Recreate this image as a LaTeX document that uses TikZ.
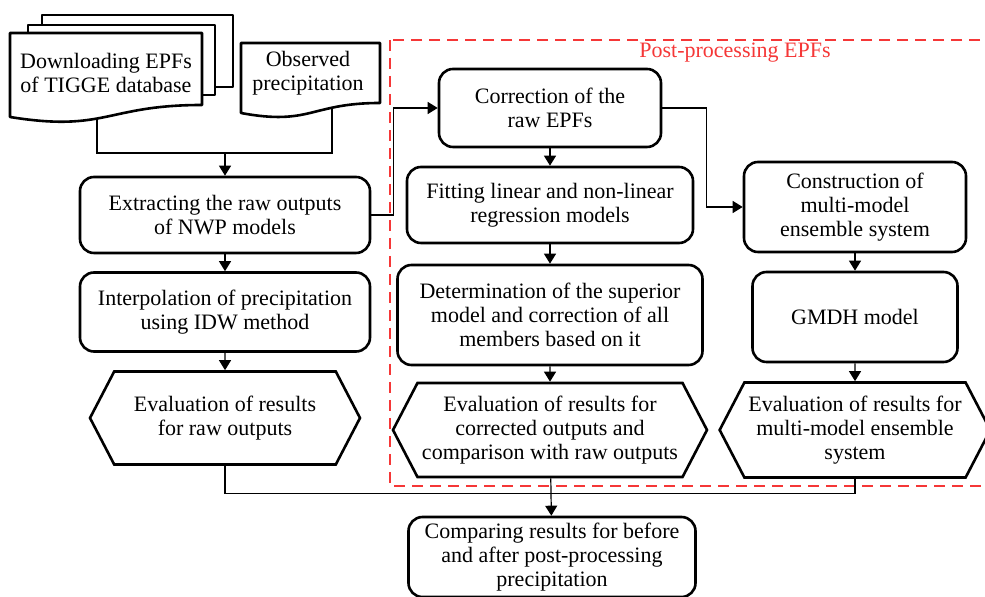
\documentclass[tikz,border=0pt]{standalone}
\usepackage{fontspec}
\setmainfont{Liberation Serif}
\usetikzlibrary{shapes.symbols,arrows.meta}
\definecolor{postred}{RGB}{245,55,55}

\begin{document}
\begin{tikzpicture}[x=0.5pt,y=-0.5pt,font=\fontsize{11}{12}\selectfont]

  % Definitions
  \tikzstyle{Process} = [rectangle, rounded corners=7pt, align=center, draw=black, line width=1.3pt, fill=white, inner sep=2pt]
  \tikzstyle{Evaluation} = [signal, signal to=west and east, signal pointer angle=125, align=center, draw=black, line width=1.3pt, fill=white, inner sep=2pt]
  \tikzstyle{Sheet} = [draw=black, line width=1.3pt, fill=white, line join=round]
  \tikzstyle{arrow} = [line width=0.6pt, ->, >={Triangle[width=6pt,length=5pt]}]
  \tikzstyle{link} = [line width=0.6pt]
  \tikzstyle{Postbox} = [draw=postred, line width=1.3pt, dash pattern=on 5.5pt off 3.5pt]

  \useasboundingbox (0,0) rectangle (985,597);

  % post-processing frame
  \draw [Postbox] (390,40) rectangle (995,486);
  \node (posttitle) [text=postred] at (735,53) {Post-processing EPFs};

  % input documents
  \draw [Sheet] (42,15) rectangle (233,87);
  \draw [Sheet] (28,25) rectangle (215,95);
  \draw [Sheet] (10,33) -- (202,33) -- (202,105) .. controls (106,105) and (106,132.5) .. (10,117) -- cycle;
  \draw [Sheet] (241,43) -- (380,43) -- (380,103) .. controls (310.5,103) and (310.5,126) .. (241,113) -- cycle;
  \node (download) [align=center] at (106,73) {Downloading EPFs\\of TIGGE database};
  \node (observed) [align=center] at (308,73) {Observed\\precipitation};

  \coordinate (downfoot) at (97,118.5);
  \coordinate (obsfoot) at (332,107.6);
  \coordinate (merge) at (225,153);
  \draw [link, line width=1.3pt] (downfoot) |- (merge) -| (obsfoot);

  % left column
  \node (extract) [Process, minimum width=145pt, minimum height=38pt] at (225,215) {Extracting the raw outputs\\of NWP models};
  \node (interp) [Process, minimum width=145pt, minimum height=39.5pt] at (225,312) {Interpolation of precipitation\\using IDW method};
  \node (evalraw) [Evaluation, minimum width=135pt, minimum height=46.5pt] at (225,418) {Evaluation of results\\for raw outputs};

  % middle column
  \node (correct) [Process, minimum width=111pt, minimum height=39pt] at (550,108) {Correction of the\\raw EPFs};
  \node (fit) [Process, minimum width=143pt, minimum height=38pt] at (550,205) {Fitting linear and non-linear\\regression models};
  \node (determ) [Process, minimum width=152.5pt, minimum height=50pt] at (550,315) {Determination of the superior\\model and correction of all\\members based on it};
  \node (evalcor) [Evaluation, minimum width=157pt, minimum height=47pt] at (550,430) {Evaluation of results for\\corrected outputs and\\comparison with raw outputs};

  % right column
  \node (construct) [Process, minimum width=111pt, minimum height=45pt] at (855,207) {Construction of\\multi-model\\ensemble system};
  \node (gmdh) [Process, minimum width=102.5pt, minimum height=45pt] at (855,317) {GMDH model};
  \node (evalmm) [Evaluation, minimum width=133.5pt, minimum height=47.5pt] at (855,430) {Evaluation of results for\\multi-model ensemble\\system};

  % final comparison
  \node (compare) [Process, minimum width=143.5pt, minimum height=40pt] at (552,557) {Comparing results for before\\and after post-processing\\precipitation};

  \draw [arrow] (merge) -- (extract);
  \draw [arrow] (extract) -- (interp);
  \draw [arrow] (interp) -- (evalraw);
  \draw [arrow] (extract.east) -- ++(22,0) |- (correct.west);
  \draw [arrow] (correct) -- (fit);
  \draw [arrow] (correct.east) -- ++(44,0) |- (construct.west);
  \draw [arrow] (fit) -- (determ);
  \draw [arrow] (determ) -- (evalcor);
  \draw [arrow] (construct) -- (gmdh);
  \draw [arrow] (gmdh) -- (evalmm);
  \draw [link] (evalraw.south) -- ++(0,28) -| (evalmm.south);
  \draw [arrow] (evalcor) -- (compare);

\end{tikzpicture}
\end{document}
